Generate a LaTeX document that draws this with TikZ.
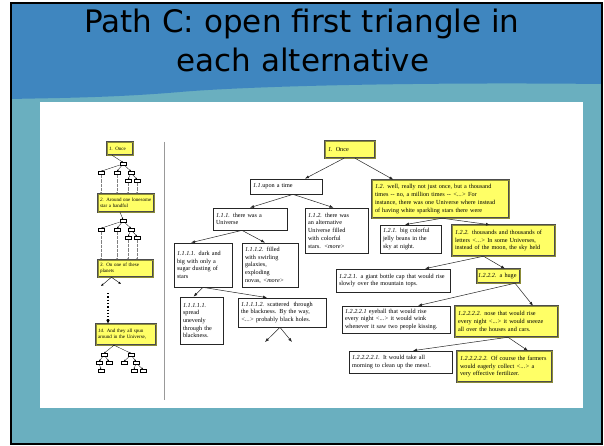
\documentclass[tikz,border=0pt]{standalone}
\usepackage{fontspec}
\usepackage{tikz}
\usetikzlibrary{arrows.meta}
\newfontfamily\titlefont{DejaVu Sans}
\newfontfamily\boxfont{Liberation Serif}
\definecolor{slideblue}{HTML}{3F86BF}
\definecolor{slideteal}{HTML}{6AAFBF}
\definecolor{noteyellow}{HTML}{FFFF66}

% small thumbnail tree: #1 name prefix, #2/#3 root position, #4 box below
\newcommand{\minitree}[4]{%
    \node[tiny box] (#1r) at (#2,#3) {};
    \node[tiny box] (#1a) at (#2-22,#3+9) {};
    \node[tiny box] (#1b) at (#2-6,#3+9) {};
    \node[tiny box] (#1c) at (#2+8,#3+9) {};
    \node[tiny box] (#1d) at (#2+5,#3+17) {};
    \node[tiny box] (#1e) at (#2+14,#3+17) {};
    \draw[tiny link] (#1r) -- (#1a.north);
    \draw[tiny link] (#1r) -- (#1b.north);
    \draw[tiny link] (#1r) -- (#1c.north);
    \draw[tiny link] (#1c) -- (#1d.north);
    \draw[tiny link] (#1c) -- (#1e.north);
    \draw[drop] (#1a.south) -- (#1a.south |- #4.north);
    \draw[drop] (#1b.south) -- (#1b.south |- #4.north);
    \draw[drop] (#1d.south) -- (#1d.south |- #4.north);
    \draw[drop] (#1e.south) -- (#1e.south |- #4.north);
}

\begin{document}
\begin{tikzpicture}[
    x=1pt, y=-1pt,
    >={Latex[length=4pt,width=3pt]},
    every node/.style={font=\boxfont\fontsize{6.2}{7.7}\selectfont},
    plain box/.style={draw=black!85, line width=0.7pt, fill=white, align=left, inner xsep=3pt, inner ysep=1pt},
    story box/.style={plain box, draw=black!70, line width=0.45pt, double=noteyellow!55!black, double distance=0.5pt, fill=noteyellow},
    thumb/.style={story box, font=\boxfont\fontsize{5}{6}\selectfont, inner xsep=2pt},
    link/.style={->, line width=0.5pt, black!85},
    tiny box/.style={draw, fill=white, minimum width=6pt, minimum height=3pt, inner sep=0pt, line width=0.4pt},
    tiny link/.style={-{Latex[length=1.6pt,width=1.6pt]}, line width=0.3pt},
    drop/.style={-{Latex[length=1.6pt,width=1.6pt]}, line width=0.3pt, gray, densely dotted}
]
    \useasboundingbox (0,0) rectangle (604,446);

    % --- SLIDE BACKGROUND ---
    \fill[slideteal] (11,3) rectangle (602,444);
    \fill[slideblue] (11,3) -- (602,3) -- (602,84) .. controls (420,82) and (250,86) .. (180,92)
        .. controls (110,98) and (50,98) .. (11,99) -- cycle;
    \draw[line width=2.4pt] (11,3) rectangle (602,444);
    \fill[white] (40,102) rectangle (583,408);

    % --- TITLE ---
    \node[font=\titlefont\fontsize{31}{38}\selectfont, anchor=base] (title1) at (302,33) {Path C: open first triangle in};
    \node[font=\titlefont\fontsize{31}{38}\selectfont, anchor=base] (title2) at (303,72) {each alternative};

    % --- LEFT: THUMBNAIL OF THE WHOLE STORY ---
    \node[thumb, text width=22pt, minimum height=13pt] (L1) at (120,148.5) {\textit{1.} Once};
    \node[thumb, text width=52pt, minimum height=18pt] (L2) at (126,203) {\textit{2.} Around one lonesome\\star a handful};
    \node[thumb, text width=51pt, minimum height=17pt] (L3) at (125.5,268.5) {\textit{3.} On one of these\\planets};
    \node[thumb, text width=56pt, minimum height=21pt] (L14) at (126,334.5) {\textit{14.} And they all spun\\around in the Universe,};

    \minitree{T1}{123}{164}{L2}
    \draw[tiny link] ([xshift=-8pt]L1.south) -- (T1r.north);
    \minitree{T2}{123}{221}{L3}
    \draw[tiny link] ([xshift=-6pt]L2.south) -- (T2r.north);

    % L3 opens two branches, then the long way down to 14
    \coordinate (L3-l) at (101,286);
    \coordinate (L3-r) at (121,284);
    \draw[-{Latex[length=2.5pt,width=2.2pt]}, line width=0.4pt] ([xshift=-14pt]L3.south) -- (L3-l);
    \draw[-{Latex[length=2.5pt,width=2.2pt]}, line width=0.4pt] ([xshift=-14pt]L3.south) -- (L3-r);
    \coordinate (gap) at (108,293);
    \draw[line width=1.3pt, dotted, -{Latex[length=4pt,width=4pt]}] (gap) -- ([xshift=-18pt]L14.north);

    % tree below 14
    \node[tiny box] (U1) at (104,355) {};
    \node[tiny box] (U2) at (131,355) {};
    \node[tiny box] (U3) at (99,363) {};
    \node[tiny box] (U4) at (109,363) {};
    \node[tiny box] (U5) at (101,371) {};
    \node[tiny box] (U6) at (124,363) {};
    \node[tiny box] (U7) at (136,363) {};
    \node[tiny box] (U8) at (134,371) {};
    \node[tiny box] (U9) at (143,371) {};
    \draw[tiny link] ([xshift=-12pt]L14.south) -- (U1.north);
    \draw[tiny link] ([xshift=-12pt]L14.south) -- (U2.north);
    \draw[tiny link] (U1) -- (U3.north);
    \draw[tiny link] (U1) -- (U4.north);
    \draw[tiny link] (U3) -- (U5.north);
    \draw[tiny link] (U2) -- (U6.north);
    \draw[tiny link] (U2) -- (U7.north);
    \draw[tiny link] (U7) -- (U8.north);
    \draw[tiny link] (U7) -- (U9.north);

    % separator
    \draw[gray!80, line width=0.8pt] (164,142) -- (164,400);

    % --- RIGHT: THE STORY TREE ---
    \node[story box, text width=44pt, minimum height=17pt] (R1) at (350,149.5) {\textit{1.} Once};
    \node[plain box, text width=66pt, minimum height=15pt] (R11) at (286,186.5) {\textit{1.1.}upon a time};
    \node[story box, text width=131pt, minimum height=38pt] (R12) at (440.5,199) {\textit{1.2.} well, really not just once, but a thousand\\times -{}- no, a million times -{}- \textit{<...>} For\\instance, there was one Universe where instead\\of having white sparkling stars there were};

    \node[plain box, text width=68pt, minimum height=22pt] (R111) at (250,219) {\textit{1.1.1.} there was a\\Universe};
    \node[plain box, text width=57pt, minimum height=45pt] (R112) at (336.5,230.5) {\textit{1.1.2.} there was\\an alternative\\Universe filled\\with colorful\\stars. \textit{<more>}};

    \node[plain box, text width=52pt, minimum height=44pt] (R1111) at (203,265) {\textit{1.1.1.1.} dark and\\big with only a\\sugar dusting of\\stars};
    \node[plain box, text width=50pt, minimum height=44pt] (R1112) at (270,265) {\textit{1.1.1.2.} filled\\with swirling\\galaxies,\\exploding\\novas, \textit{<more>}};

    \node[plain box, text width=37pt, minimum height=47pt] (R11111) at (201.5,320.5) {\textit{1.1.1.1.1.}\\spread\\unevenly\\through the\\blackness.};
    \node[plain box, text width=82pt, minimum height=29pt] (R11112) at (282,312.5) {\textit{1.1.1.1.2.} scattered\ \ through\\the blackness. By the way,\\\textit{<...>} probably black holes.};

    \node[plain box, text width=55pt, minimum height=28pt] (R121) at (410.5,239) {\textit{1.2.1.} big colorful\\jelly beans in the\\sky at night.};
    \node[story box, text width=97pt, minimum height=31pt] (R122) at (503.5,240.5) {\textit{1.2.2.} thousands and thousands of\\letters \textit{<...>} In some Universes,\\instead of the moon, the sky held};

    \node[plain box, text width=108pt, minimum height=23pt] (R1221) at (393,280.5) {\textit{1.2.2.1.} a giant bottle cap that would rise\\slowly over the mountain tops.};
    \node[story box, text width=41pt, inner xsep=1pt, minimum height=14pt] (R1222) at (498.5,276) {\textit{1.2.2.2.} a huge};

    \node[plain box, text width=102pt, minimum height=27pt] (R12221) at (396,319.5) {\textit{1.2.2.2.1} eyeball that would rise\\every night \textit{<...>} it would wink\\whenever it saw two people kissing.};
    \node[story box, text width=97pt, minimum height=31pt] (R12222) at (506.5,321.5) {\textit{1.2.2.2.2.} nose that would rise\\every night \textit{<...>} it would sneeze\\all over the houses and cars.};

    \node[plain box, text width=97pt, minimum height=22pt] (R122221) at (400.5,362) {\textit{1.2.2.2.2.1.} It would take all\\morning to clean up the mess!.};
    \node[story box, text width=89pt, minimum height=31pt] (R122222) at (504.5,366.5) {\textit{1.2.2.2.2.2.} Of course the farmers\\would eagerly collect \textit{<...>} a\\very effective fertilizer.};

    % --- EDGES ---
    \draw[link] ([xshift=-6pt]R1.south) -- ([xshift=19pt]R11.north);
    \draw[link] ([xshift=5pt]R1.south) -- ([xshift=-47pt]R12.north);
    \draw[link] ([xshift=7pt]R11.south) -- (R111.north);
    \draw[link] ([xshift=7pt]R11.south) -- ([xshift=-3pt]R112.north);
    \draw[link] ([xshift=-8pt]R111.south) -- ([xshift=-12pt]R1111.north);
    \draw[link] ([xshift=-8pt]R111.south) -- ([xshift=-5pt]R1112.north);
    \draw[link] (R1111.south) -- ([xshift=-8pt]R11111.north);
    \draw[link] (R1111.south) -- ([xshift=-15pt]R11112.north);

    % the two unopened triangles under 1.1.1.1.2
    \coordinate (R11112-l) at (265,342);
    \coordinate (R11112-r) at (292,342);
    \draw[link] ([xshift=-2pt]R11112.south) -- (R11112-l);
    \draw[link] ([xshift=-2pt]R11112.south) -- (R11112-r);

    \draw[link] ([xshift=1.5pt]R12.south) -- ([xshift=-5.5pt]R121.north);
    \draw[link] ([xshift=1.5pt]R12.south) -- ([xshift=-13.5pt]R122.north);
    \draw[link] ([xshift=-20pt]R122.south) -- ([xshift=32pt]R1221.north);
    \draw[link] ([xshift=-20pt]R122.south) -- ([xshift=6.5pt]R1222.north);
    \draw[link] ([xshift=16.5pt]R1222.south) -- ([xshift=22pt]R12221.north);
    \draw[link] ([xshift=16.5pt]R1222.south) -- ([xshift=26.5pt]R12222.north);
    \draw[link] ([xshift=1.5pt]R12222.south) -- ([xshift=12.5pt]R122221.north);
    \draw[link] ([xshift=1.5pt]R12222.south) -- ([xshift=23.5pt]R122222.north);

\end{tikzpicture}
\end{document}
